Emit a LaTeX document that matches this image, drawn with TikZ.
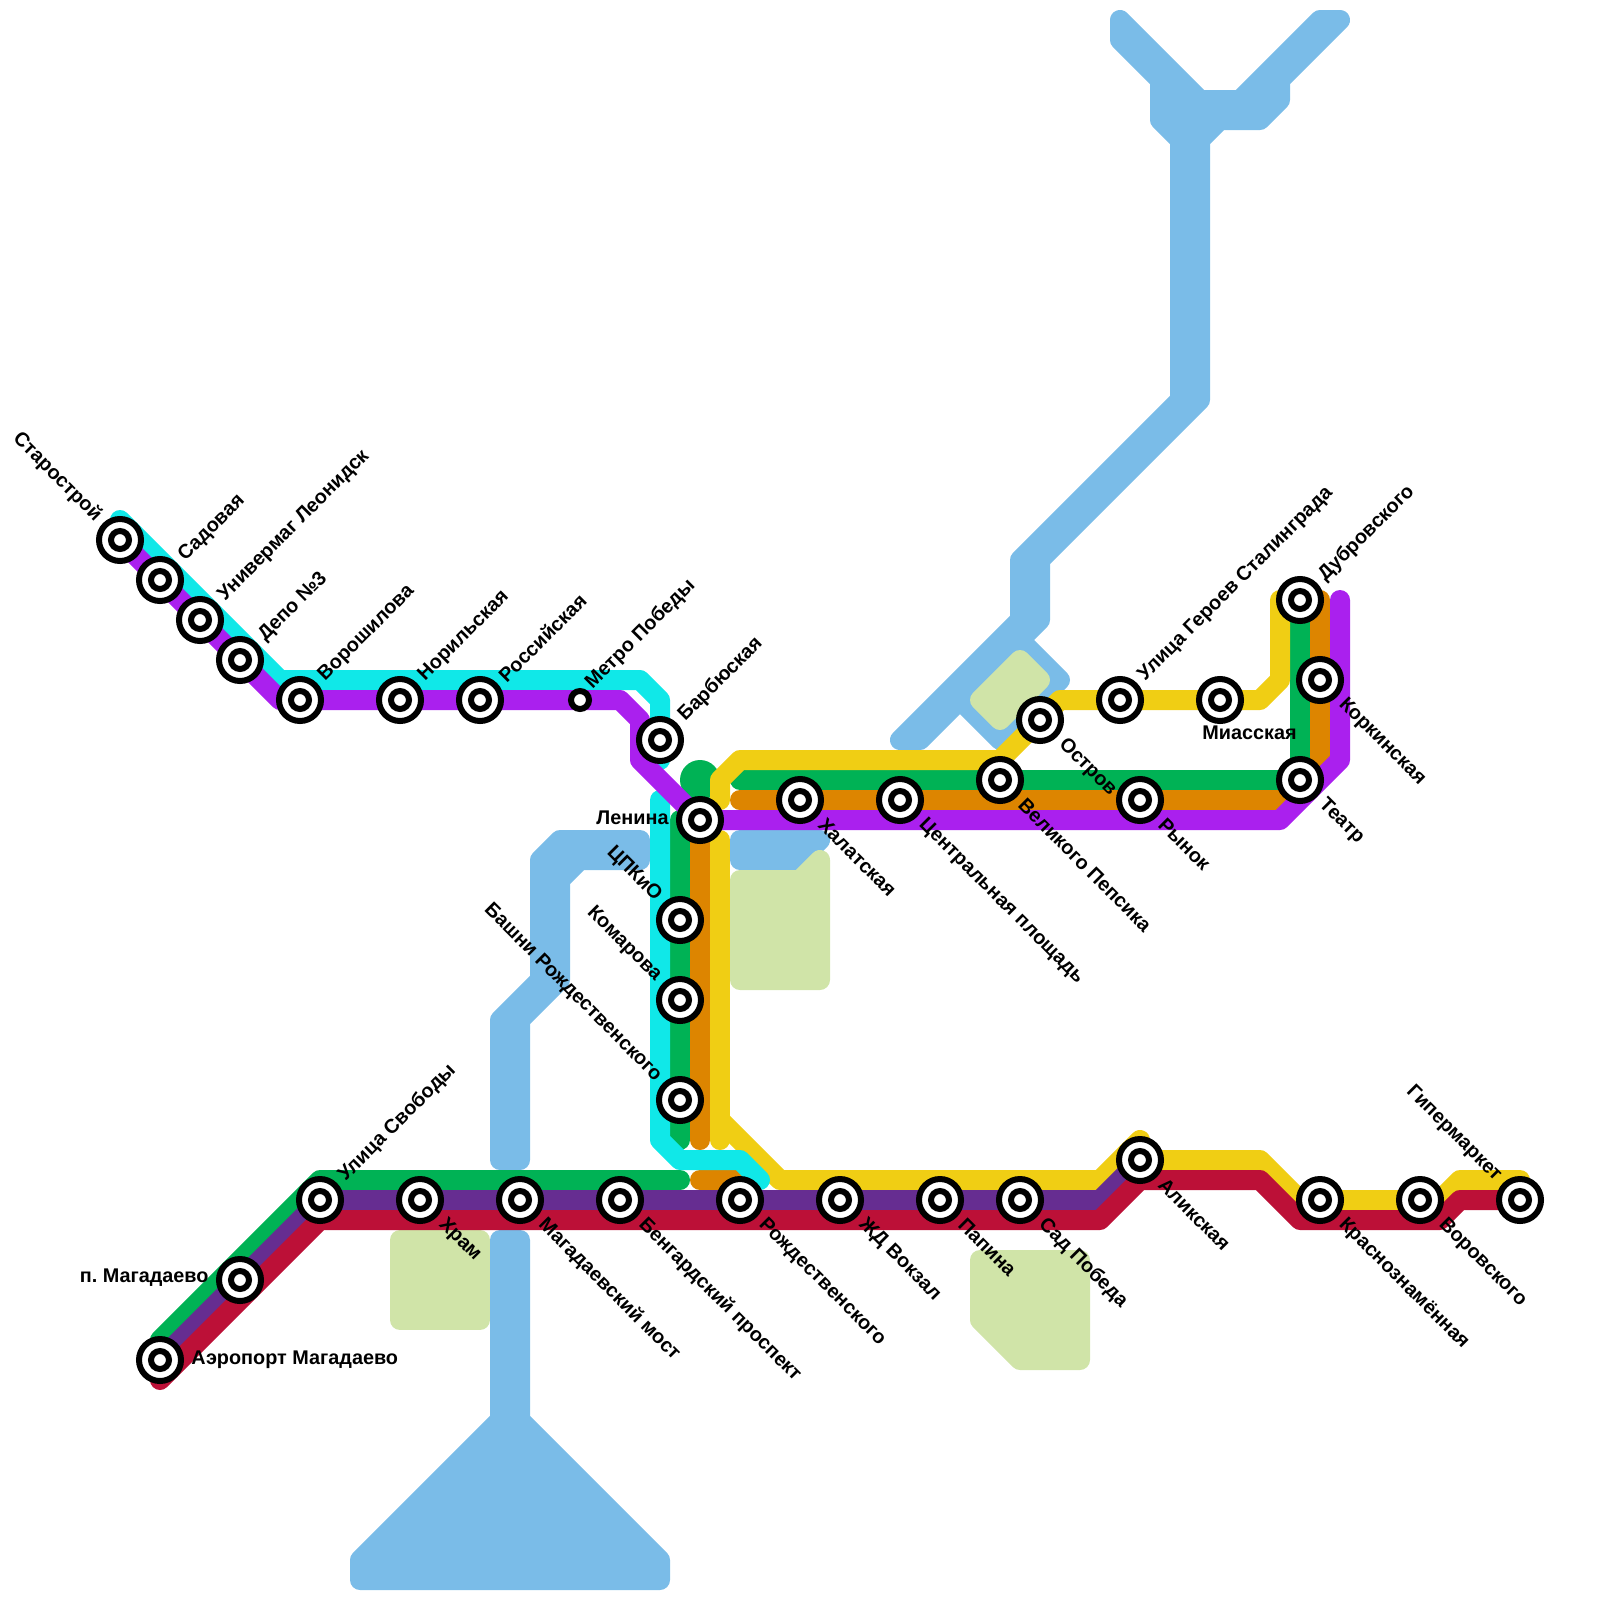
\documentclass[tikz,border=0pt]{standalone}
\usepackage{fontspec}
\setmainfont{Liberation Sans}
\definecolor{lncyan}{HTML}{10E8E8}
\definecolor{lnviolet}{HTML}{AA20EE}
\definecolor{lngreen}{HTML}{00B255}
\definecolor{lnorange}{HTML}{DD8500}
\definecolor{lnyellow}{HTML}{F0CE14}
\definecolor{lnred}{HTML}{BC1037}
\definecolor{lnplum}{HTML}{662D91}
\definecolor{water}{HTML}{7ABCE8}
\definecolor{park}{HTML}{D0E4A8}

\begin{document}
\begin{tikzpicture}[x=.5cm,y=-.5cm,
metro/.style={line width=.5cm,line cap=round,line join=round},
cy/.style={metro,draw=lncyan},vi/.style={metro,draw=lnviolet},gr/.style={metro,draw=lngreen},or/.style={metro,draw=lnorange},ye/.style={metro,draw=lnyellow},re/.style={metro,draw=lnred},pl/.style={metro,draw=lnplum},
wat/.style={metro,draw=water,fill=water},prk/.style={metro,draw=park,fill=park},
station/.style={circle,draw=black,fill=white,line width=.15cm,minimum size=1.05cm,inner sep=0pt},
stcore/.style={circle,draw=black,fill=white,line width=.15cm,minimum size=.45cm,inner sep=0pt},
stlabel/.style={font=\fontsize{14.1}{16}\selectfont\bfseries\frenchspacing,inner sep=0pt},
labne/.style={stlabel,xshift=.54cm,yshift=.54cm,anchor=west,rotate=45},
labse/.style={stlabel,xshift=.54cm,yshift=-.54cm,anchor=west,rotate=-45},
labnw/.style={stlabel,xshift=-.54cm,yshift=.54cm,anchor=east,rotate=-45},
labw/.style={stlabel,xshift=-.78cm,yshift=.05cm,anchor=east},
labe/.style={stlabel,xshift=.78cm,anchor=west},
labs/.style={stlabel,xshift=.74cm,yshift=-.82cm},
labsm/.style={stlabel,xshift=.22cm,yshift=.35cm,anchor=west,rotate=45}]
\useasboundingbox (0,0) rectangle (80,80);
% water
\draw[wat] (56,1)--(56,2)--(58,4)--(58,6)--(59,7)--(59,20)--(51,28)--(51,31)--(45,37)--(46,37)--(48,35)--(50,37)--(53,34)--(51,32)--(52,31)--(52,28)--(60,20)--(60,7)--(61,6)--(63,6)--(64,5)--(64,4)--(67,1)--(66,1)--(62,5)--(60,5)--cycle;
\draw[wat] (32,42)--(28,42)--(27,43)--(27,49)--(25,51)--(25,58)--(26,58)--(26,51)--(28,49)--(28,44)--(29,43)--(32,43)--cycle;
\draw[wat] (25,62)--(26,62)--(26,71)--(33,78)--(33,79)--(18,79)--(18,78)--(25,71)--cycle;
\draw[wat] (37,42)--(41,42)--(40,43)--(37,43)--cycle;
% parks
\draw[prk] (51,33)--(52,34)--(50,36)--(49,35)--cycle;
\draw[prk] (37,44)--(40,44)--(41,43)--(41,49)--(37,49)--cycle;
\draw[prk] (20,62)--(24,62)--(24,66)--(20,66)--cycle;
\draw[prk] (49,63)--(54,63)--(54,68)--(51,68)--(49,66)--cycle;
% lines
\draw[or] (37,40)--(64,40)--(66,38)--(66,30);
\draw[or] (35,41)--(35,57);
\draw[or] (35,59)--(37,59);
\fill[lngreen] (35,39) circle (.5cm);
\draw[gr] (37,39)--(65,39)--(65,30);
\draw[gr] (34,41)--(34,57);
\draw[gr] (34,59)--(16,59)--(8,67);
\draw[ye] (36,40)--(36,39)--(37,38)--(50,38)--(53,35)--(63,35)--(64,34)--(64,30);
\draw[ye] (36,42)--(36,57);
\draw[ye] (36,56)--(39,59)--(55,59)--(57,57)--(57,58)--(63,58)--(65,60)--(72,60)--(73,59)--(76,59)--(76,60);
\draw[cy] (6,26)--(14,34)--(32,34)--(33,35)--(33,38);
\draw[cy] (33,40)--(33,57)--(34,58)--(37,58)--(38,59);
\draw[vi] (6,27)--(14,35)--(31,35)--(32,36)--(32,38)--(35,41)--(64,41)--(67,38)--(67,30);
\draw[pl] (8,68)--(16,60)--(55,60)--(57,58);
\draw[re] (8,69)--(16,61)--(55,61)--(57,59)--(63,59)--(65,61)--(72,61)--(73,60)--(76,60);
% stations
\foreach \n/\x/\y/\lab/\txt in {starostroy/6/27/labnw/Старострой,sadovaya/8/29/labne/Садовая,univermag/10/31/labne/Универмаг Леонидск,depo/12/33/labne/Депо №3,voroshilova/15/35/labne/Ворошилова,norilskaya/20/35/labne/Норильская,rossiyskaya/24/35/labne/Российская,barbyuskaya/33/37/labne/Барбюская,lenina/35/41/labw/Ленина,tspkio/34/46/labnw/ЦПКиО,komarova/34/50/labnw/Комарова,bashni/34/55/labnw/Башни Рождественского,halatskaya/40/40/labse/Халатская,tsentralnaya/45/40/labse/Центральная площадь,pepsika/50/39/labse/Великого Пепсика,ostrov/52/36/labse/Остров,rynok/57/40/labse/Рынок,geroev/56/35/labne/Улица Героев Сталинграда,miasskaya/61/35/labs/Миасская,dubrovskogo/65/30/labne/Дубровского,korkinskaya/66/34/labse/Коркинская,teatr/65/39/labse/Театр,svobody/16/60/labne/Улица Свободы,magadaevo/12/64/labw/п. Магадаево,aeroport/8/68/labe/Аэропорт Магадаево,hram/21/60/labse/Храм,most/26/60/labse/Магадаевский мост,bengard/31/60/labse/Бенгардский проспект,rozhdestv/37/60/labse/Рождественского,vokzal/42/60/labse/ЖД Вокзал,papina/47/60/labse/Папина,sadpobeda/51/60/labse/Сад Победа,alikskaya/57/58/labse/Аликская,krasnoz/66/60/labse/Краснознамённая,vorovskogo/71/60/labse/Воровского,giper/76/60/labnw/Гипермаркет}{
\node[station] (\n) at (\x,\y) {};\node[stcore] (\n c) at (\n) {};\node[\lab] (\n l) at (\n) {\txt};}
\node[stcore] (pobedy) at (29,35) {};\node[labsm] (pobedy l) at (pobedy) {Метро Победы};
\end{tikzpicture}
\end{document}
